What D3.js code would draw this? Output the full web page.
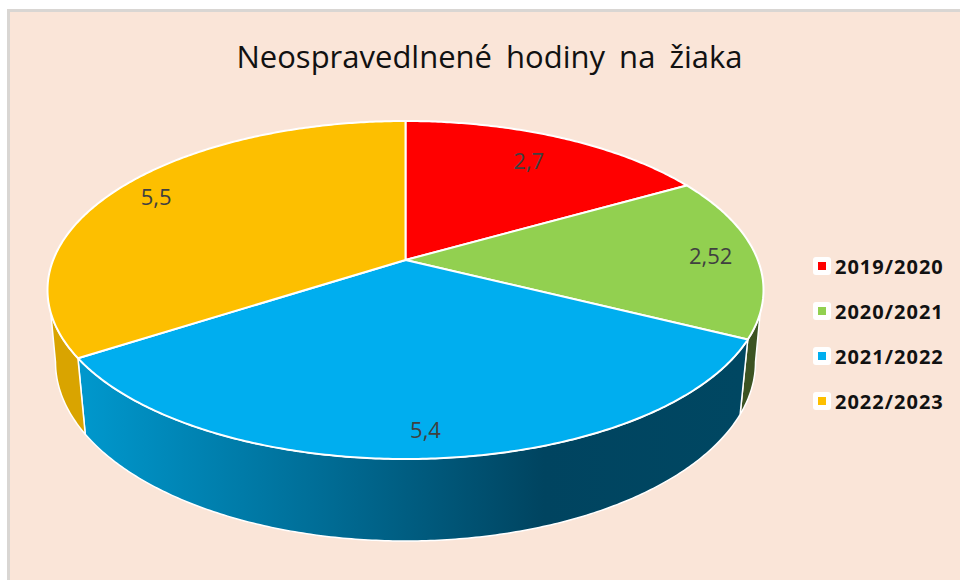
<!DOCTYPE html>
<html>
<head>
<meta charset="utf-8">
<script src="https://cdn.jsdelivr.net/npm/d3@7"></script>
<style>
  html, body { margin: 0; padding: 0; background: #fff; }
  svg { display: block; }
  text { font-family: "Open Sans", sans-serif; }
</style>
</head>
<body>
<div id="chart"></div>
<script>
var svgWidth = 960;
var svgHeight = 580;

// chart data
var categories = ["2019/2020", "2020/2021", "2021/2022", "2022/2023"];
var values = [2.7, 2.52, 5.4, 5.5];
var valueLabels = ["2,7", "2,52", "5,4", "5,5"];
var colors = ["#ff0000", "#92d050", "#00aeef", "#fdbf00"];

var svg = d3.select("#chart")
  .append("svg")
  .attr("width", svgWidth)
  .attr("height", svgHeight);

// frame of the chart area
svg.append("rect").attr("x", 7).attr("y", 9).attr("width", svgWidth).attr("height", svgHeight).attr("fill", "#d9d6d3");
svg.append("rect").attr("x", 10).attr("y", 12).attr("width", svgWidth).attr("height", svgHeight).attr("fill", "#fae5d8");

svg.append("text")
  .attr("x", 489.5)
  .attr("y", 68)
  .attr("text-anchor", "middle")
  .attr("font-size", 31)
  .attr("word-spacing", 6)
  .attr("fill", "#111")
  .text("Neospravedlnené hodiny na žiaka");

// the rim is an ellipse, the pie centre is shifted up by the perspective
var topRim = { cx: 405.5, cy: 290, rx: 358, ry: 169 };
var bottomRim = { cx: 405.5, cy: 362, rx: 350, ry: 179 };
var k = -0.1775;

function project(rim, angle, r) {
  var u = r * Math.sin(angle);
  var v = -r * Math.cos(angle);
  var w = 1 + k * v;
  return [
    rim.cx + rim.rx * u * Math.sqrt(1 - k * k) / w,
    rim.cy + rim.ry * (v + k) / w
  ];
}

function arcPoints(rim, a0, a1) {
  var n = Math.max(2, Math.ceil(Math.abs(a1 - a0) / 0.01));
  return d3.range(n + 1).map(i => project(rim, a0 + (a1 - a0) * i / n, 1));
}

var line = d3.line();

var pie = d3.pie().sort(null).value(d => d);
var slices = pie(values);

var defs = svg.append("defs");
var sideGradient = defs.append("linearGradient")
  .attr("id", "sideBlue")
  .attr("gradientUnits", "userSpaceOnUse")
  .attr("x1", 85).attr("x2", 741).attr("y1", 0).attr("y2", 0);
[[0, "#0097cc"], [0.36, "#006d96"], [0.7, "#004460"], [1, "#004762"]].forEach(s => {
  sideGradient.append("stop").attr("offset", s[0]).attr("stop-color", s[1]);
});

// side walls, only the part facing the viewer
var topLimits = [Math.acos(-0.306), 2 * Math.PI - Math.acos(-0.306)];
var bottomLimits = [Math.acos(-0.1775), 2 * Math.PI - Math.acos(-0.1775)];
var sideFills = [null, "#3c5322", "url(#sideBlue)", "#d9a400"];

slices.forEach((d, i) => {
  if (!sideFills[i]) return;
  var t0 = Math.max(d.startAngle, topLimits[0]);
  var t1 = Math.min(d.endAngle, topLimits[1]);
  var b0 = Math.max(d.startAngle, bottomLimits[0]);
  var b1 = Math.min(d.endAngle, bottomLimits[1]);
  var pts = arcPoints(topRim, t0, t1).concat(arcPoints(bottomRim, b1, b0));
  svg.append("path")
    .attr("d", line(pts) + "Z")
    .attr("fill", sideFills[i])
    .attr("stroke", "#fff")
    .attr("stroke-width", 1.5)
    .attr("stroke-linejoin", "round");
});

// top faces
var apex = project(topRim, 0, 0);
svg.selectAll(".slice")
  .data(slices)
  .enter()
  .append("path")
  .attr("class", "slice")
  .attr("d", d => line([apex].concat(arcPoints(topRim, d.startAngle, d.endAngle))) + "Z")
  .attr("fill", (d, i) => colors[i])
  .attr("stroke", "#fff")
  .attr("stroke-width", 2)
  .attr("stroke-linejoin", "round");

// value labels, pushed out by hand per slice like the original
var labelRadius = [0.78, 0.87, 0.88, 0.865];
function labelPos(d, i) {
  return project(topRim, (d.startAngle + d.endAngle) / 2, labelRadius[i]);
}

svg.selectAll(".value")
  .data(slices)
  .enter()
  .append("text")
  .attr("class", "value")
  .attr("text-anchor", "middle")
  .attr("font-size", 22)
  .attr("fill", "#404040")
  .attr("x", (d, i) => labelPos(d, i)[0])
  .attr("y", (d, i) => labelPos(d, i)[1] + 8)
  .text((d, i) => valueLabels[i]);

// legend
var legendY = d3.scalePoint().domain(categories).range([266, 401]);
var legend = svg.selectAll(".legend")
  .data(categories)
  .enter()
  .append("g")
  .attr("class", "legend")
  .attr("transform", d => `translate(0, ${legendY(d)})`);

legend.append("rect")
  .attr("x", 813).attr("y", -9)
  .attr("width", 18).attr("height", 18)
  .attr("rx", 3)
  .attr("fill", "#fff");

legend.append("rect")
  .attr("x", 818).attr("y", -4)
  .attr("width", 8).attr("height", 8)
  .attr("fill", (d, i) => colors[i]);

legend.append("text")
  .attr("x", 835)
  .attr("y", 8)
  .attr("font-size", 20)
  .attr("font-weight", 700)
  .attr("letter-spacing", 1)
  .attr("fill", "#111")
  .text(d => d);
</script>
</body>
</html>
